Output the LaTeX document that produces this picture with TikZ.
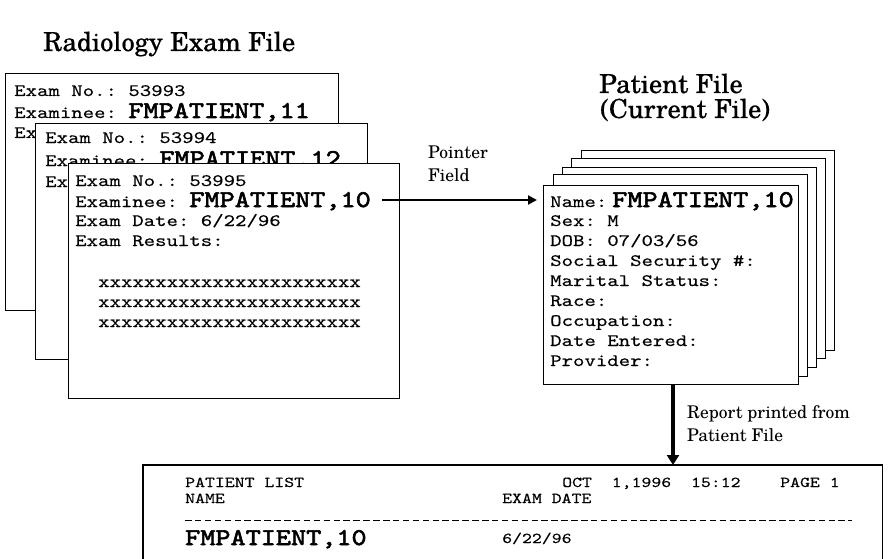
\documentclass[tikz,border=0pt]{standalone}
\usepackage{fontspec}
\setmonofont[FakeStretch=1.25,FakeBold=0.3,BoldFont=lmmono10-regular.otf,BoldFeatures={FakeStretch=1.2,FakeBold=2.5}]{lmmono10-regular.otf}
\newfontfamily\serifl{texgyreschola-regular.otf}
\newfontfamily\serift[FakeBold=0.4]{texgyreschola-regular.otf}
\usetikzlibrary{arrows.meta}
\begin{document}
\begin{tikzpicture}[x=1pt,y=-1pt,
  sheet/.style={draw,fill=white,line width=1.3pt,inner sep=0pt,anchor=north west},
  txt/.style={anchor=base west,inner sep=0pt,font=\fontsize{17.4}{20}\selectfont\ttfamily},
  rep/.style={anchor=base west,inner sep=0pt,font=\fontsize{15.1}{16}\selectfont\ttfamily},
  lbl/.style={anchor=base west,inner sep=0pt,font=\fontsize{17.5}{20}\selectfont\serifl},
  ttl/.style={anchor=base west,inner sep=0pt,font=\fontsize{26.2}{28}\selectfont\serift},
  ptr/.style={line width=2.5pt,-{Triangle[length=9pt,width=9pt]}},
  down/.style={line width=4pt,-{Triangle[length=10pt,width=12pt]}}
]
\newcommand\bnm[1]{{\fontsize{24}{24}\selectfont\bfseries #1}}
\useasboundingbox (0,0) rectangle (894,559);

% titles
\node[ttl] (t1) at (43,51) {Radiology Exam File};
\node[ttl] (t2) at (599,93) {Patient File};
\node[ttl] (t3) at (600,118) {(Current File)};

% exam file sheets
\node[sheet,minimum width=333pt,minimum height=237pt] (b1) at (5,73) {};
\node[txt] (b1a) at (14,96) {Exam No.: 53993};
\node[txt] (b1b) at (14,118) {Examinee: \bnm{FMPATIENT,11}};
\node[txt] (b1c) at (14,138) {Exa};

\node[sheet,minimum width=332pt,minimum height=236pt] (b2) at (35,123) {};
\node[txt] (b2a) at (45,143) {Exam No.: 53994};
\node[txt] (b2b) at (45,166) {Examinee: \bnm{FMPATIENT,12}};
\node[txt] (b2c) at (45,187) {Exa};

\node[sheet,minimum width=331pt,minimum height=235pt] (b3) at (68,163) {};
\node[txt] (b3a) at (75,186) {Exam No.: 53995};
\node[txt] (b3b) at (75,207) {Examinee: \bnm{FMPATIENT,10}};
\node[txt] (b3c) at (75,226) {Exam Date: 6/22/96};
\node[txt] (b3d) at (75,246) {Exam Results:};
\node[txt] (x1) at (98,287) {xxxxxxxxxxxxxxxxxxxxxxx};
\node[txt] (x2) at (98,307) {xxxxxxxxxxxxxxxxxxxxxxx};
\node[txt] (x3) at (98,327) {xxxxxxxxxxxxxxxxxxxxxxx};

% patient file stack
\node[sheet,minimum width=253pt,minimum height=200pt] (c5) at (581,150) {};
\node[sheet,minimum width=254pt,minimum height=200pt] (c4) at (571,158) {};
\node[sheet,minimum width=254pt,minimum height=200pt] (c3) at (562,167) {};
\node[sheet,minimum width=254pt,minimum height=202pt] (c2) at (553,174) {};
\node[sheet,minimum width=255pt,minimum height=199pt] (pcard) at (543,185) {};
\node[txt] (p1) at (550,207) {Name:\hspace{5pt}\bnm{FMPATIENT,10}};
\node[txt] (p2) at (550,226) {Sex: M};
\node[txt] (p3) at (550,246) {DOB: 07/03/56};
\node[txt] (p4) at (550,266) {Social Security \#:};
\node[txt] (p5) at (550,286) {Marital Status:};
\node[txt] (p6) at (550,306) {Race:};
\node[txt] (p7) at (550,326) {Occupation:};
\node[txt] (p8) at (550,346) {Date Entered:};
\node[txt] (p9) at (550,366) {Provider:};

% pointer arrow
\coordinate (pstart) at (382,200);
\draw[ptr,shorten >=6pt] (pstart) -- (pstart -| pcard.west);
\node[lbl] (pf1) at (428,158) {Pointer};
\node[lbl] (pf2) at (428,182) {Field};

% report
\node[inner sep=0pt,minimum width=739pt,minimum height=94pt,anchor=north west] (report) at (143,465) {};
\draw[line width=1.3pt] (report.south west) -- (report.north west) -- (report.north east) -- (report.south east);
\coordinate (dx) at (673,384);
\draw[down] (dx |- pcard.south) -- (dx |- report.north);
\node[lbl] (r1) at (687,418) {Report printed from};
\node[lbl] (r2) at (687,441) {Patient File};

\node[rep] (h1) at (185,487) {PATIENT LIST};
\node[rep] (h2) at (562,487) {OCT\ \ 1,1996\ \ 15:12\ \ \ \ PAGE 1};
\node[rep] (h3) at (185,503) {NAME};
\node[rep] (h4) at (502,503) {EXAM DATE};
\coordinate (d1) at (185,520);
\coordinate (d2) at (852,520);
\draw[line width=1pt,dash pattern=on 6.5pt off 3.4pt] (d1) -- (d2);
\node[anchor=base west,inner sep=0pt,font=\ttfamily] (h5) at (185,545) {\bnm{FMPATIENT,10}};
\node[rep] (h6) at (502,543) {6/22/96};
\end{tikzpicture}
\end{document}
